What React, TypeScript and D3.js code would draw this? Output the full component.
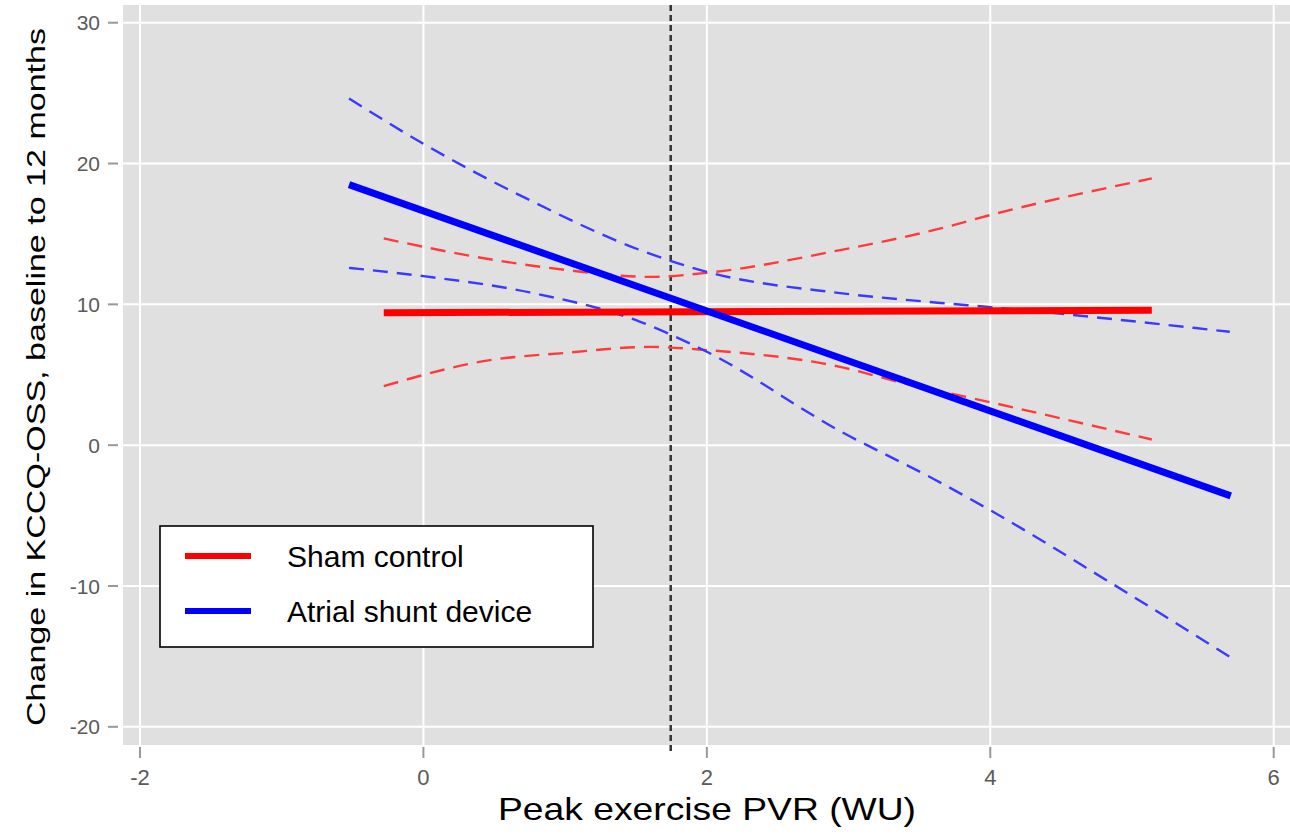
import React from "react";
import * as d3 from "d3";

// ---- data ----
const xTicks = [-2, 0, 2, 4, 6];
const yTicks = [-20, -10, 0, 10, 20, 30];
const cutoffX = [1.745];

const shamFitX = [-0.28, 5.14];
const shamFitY = [9.4, 9.58];
const shamUpperX = [-0.28, 0.47, 1.0, 1.6, 2.0, 2.94, 3.65, 4.0, 5.14];
const shamUpperY = [14.68, 13.2, 12.45, 11.95, 12.24, 13.85, 15.39, 16.34, 18.94];
const shamLowerX = [-0.28, 0.47, 1.0, 1.6, 2.0, 2.94, 3.39, 3.83, 5.14];
const shamLowerY = [4.19, 6.04, 6.55, 6.98, 6.75, 5.56, 4.4, 3.43, 0.4];

const shuntFitX = [-0.525, 5.697];
const shuntFitY = [18.5, -3.6];
const shuntUpperX = [-0.525, 0, 0.75, 1.53, 2.0, 2.94, 3.65, 4.0, 5.69];
const shuntUpperY = [24.62, 21.4, 17.4, 13.85, 12.31, 10.8, 10.1, 9.8, 8.05];
const shuntLowerX = [-0.525, 0, 0.75, 1.53, 2.0, 2.94, 3.6, 4.0, 4.82, 5.69];
const shuntLowerY = [12.59, 12.0, 10.85, 8.76, 6.63, 1.0, -2.4, -4.62, -9.59, -15.03];

const legendLabels = ["Sham control", "Atrial shunt device"];
const legendColors = ["#ff0000", "#0000ff"];

const W = 1290;
const H = 838;
const FONT = "'Liberation Sans', Arial, Helvetica, sans-serif";

export default function App() {
  const x = d3.scaleLinear().domain([-2, 6]).range([140, 1273.7]);
  const y = d3.scaleLinear().domain([-20, 30]).range([726.8, 22.7]);
  const panel = { left: 123, top: 5, right: 1290, bottom: 745 };

  const zip = (xs: number[], ys: number[]) => xs.map((v, i) => [v, ys[i]] as [number, number]);
  const curve = d3
    .line<[number, number]>()
    .x((d) => x(d[0]))
    .y((d) => y(d[1]))
    .curve(d3.curveMonotoneX);
  const straight = d3
    .line<[number, number]>()
    .x((d) => x(d[0]))
    .y((d) => y(d[1]));

  const dash = "15,9";

  return (
    <svg
      width={W}
      height={H}
      style={{ position: "absolute", left: 0, top: 0, background: "#fff" }}
      fontFamily={FONT}
    >
      <rect
        x={panel.left}
        y={panel.top}
        width={panel.right - panel.left}
        height={panel.bottom - panel.top}
        fill="#e0e0e0"
      />
      {/* gridlines */}
      {yTicks.map((t) => (
        <line key={"gy" + t} x1={panel.left} x2={panel.right} y1={y(t)} y2={y(t)} stroke="#fff" strokeWidth={2} />
      ))}
      {xTicks.map((t) => (
        <line key={"gx" + t} x1={x(t)} x2={x(t)} y1={panel.top} y2={panel.bottom} stroke="#fff" strokeWidth={2} />
      ))}

      {/* y axis ticks & labels */}
      {yTicks.map((t) => (
        <g key={"ty" + t}>
          <line x1={108} x2={118} y1={y(t)} y2={y(t)} stroke="#999" strokeWidth={2} />
          <text x={100} y={y(t)} dy="0.36em" textAnchor="end" fontSize={21} fill="#5a5a5a">
            {t}
          </text>
        </g>
      ))}
      {/* x axis ticks & labels */}
      {xTicks.map((t) => (
        <g key={"tx" + t}>
          <line x1={x(t)} x2={x(t)} y1={747} y2={758} stroke="#999" strokeWidth={2} />
          <text x={x(t)} y={785} textAnchor="middle" fontSize={22} fill="#5a5a5a">
            {t}
          </text>
        </g>
      ))}

      {/* vertical cutoff */}
      {cutoffX.map((c) => (
        <line
          key={"c" + c}
          x1={x(c)}
          x2={x(c)}
          y1={panel.top}
          y2={panel.bottom + 8}
          stroke="#333"
          strokeWidth={2.5}
          strokeDasharray="6,4"
        />
      ))}

      {/* CI dashed lines */}
      <path d={curve(zip(shamUpperX, shamUpperY)) || ""} fill="none" stroke="#ff3a3a" strokeWidth={2.4} strokeDasharray={dash} />
      <path d={curve(zip(shamLowerX, shamLowerY)) || ""} fill="none" stroke="#ff3a3a" strokeWidth={2.4} strokeDasharray={dash} />
      <path d={curve(zip(shuntUpperX, shuntUpperY)) || ""} fill="none" stroke="#3a3aff" strokeWidth={2.4} strokeDasharray={dash} />
      <path d={curve(zip(shuntLowerX, shuntLowerY)) || ""} fill="none" stroke="#3a3aff" strokeWidth={2.4} strokeDasharray={dash} />

      {/* fitted lines */}
      <path d={straight(zip(shamFitX, shamFitY)) || ""} fill="none" stroke="#ff0000" strokeWidth={7} />
      <path d={straight(zip(shuntFitX, shuntFitY)) || ""} fill="none" stroke="#0000ff" strokeWidth={7} />

      {/* legend */}
      <rect x={160} y={526} width={433} height={121} fill="#fff" stroke="#000" strokeWidth={1.6} />
      {legendLabels.map((lab, i) => (
        <g key={lab}>
          <line x1={185} x2={251} y1={556 + i * 55} y2={556 + i * 55} stroke={legendColors[i]} strokeWidth={6} />
          <text x={287} y={567 + i * 55} fontSize={30} fill="#000">
            {lab}
          </text>
        </g>
      ))}

      {/* axis titles */}
      <text x={707} y={820} textAnchor="middle" fontSize={32} fill="#000" textLength={418} lengthAdjust="spacingAndGlyphs">
        Peak exercise PVR (WU)
      </text>
      <text
        transform="translate(45,377) rotate(-90)"
        textAnchor="middle"
        fontSize={25}
        fill="#000"
        textLength={698}
        lengthAdjust="spacingAndGlyphs"
      >
        Change in KCCQ-OSS, baseline to 12 months
      </text>
    </svg>
  );
}
